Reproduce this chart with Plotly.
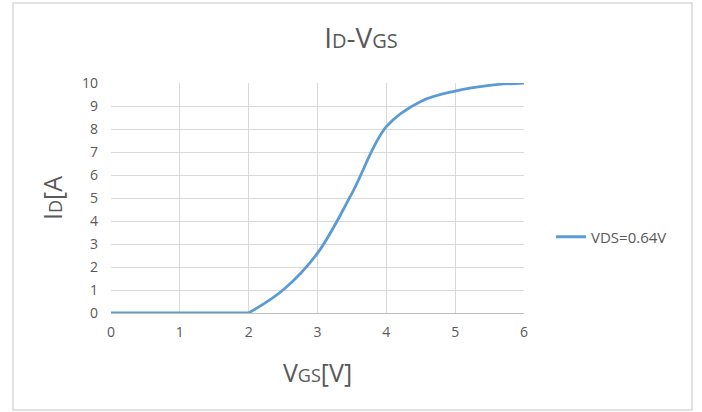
import plotly.graph_objects as go

vgs = [0, 0.5, 1, 1.5, 2, 2.5, 3, 3.5, 4, 4.5, 5, 5.5, 6]
id_a = [0, 0, 0, 0, 0, 1.0, 2.6, 5.2, 8.1, 9.2, 9.65, 9.9, 10]
series_name = "VDS=0.64V"
x_ticks = [0, 1, 2, 3, 4, 5, 6]
y_ticks = list(range(0, 11))

W, H = 702, 412
L, R, T, B = 111, 178, 83, 99
pw, ph = W - L - R, H - T - B

font_fam = "'Open Sans', 'Noto Sans', sans-serif"
gray = "#595959"
blue = "#5b9bd5"

# split at the knee (x=2) so the flat part stays flat and the rise stays smooth
k = vgs.index(2)

fig = go.Figure()
fig.add_trace(go.Scatter(
    x=vgs[:k + 1], y=id_a[:k + 1], mode="lines", name=series_name,
    legendgroup="s", showlegend=True,
    line=dict(color=blue, width=2.8),
))
fig.add_trace(go.Scatter(
    x=vgs[k:], y=id_a[k:], mode="lines", name=series_name,
    legendgroup="s", showlegend=False,
    line=dict(color=blue, width=2.8, shape="spline", smoothing=1.0),
))

fig.update_layout(
    width=W, height=H,
    margin=dict(l=L, r=R, t=T, b=B),
    paper_bgcolor="white", plot_bgcolor="white",
    font=dict(family=font_fam, color=gray, size=14),
    title=dict(
        text="I<span style='font-size:20px'>D</span>-V<span style='font-size:20px'>GS</span>",
        x=361 / W, xanchor="center", y=1 - 38 / H, yanchor="middle",
        font=dict(size=28, color=gray, family=font_fam),
    ),
    showlegend=True,
    legend=dict(x=(551 - L) / pw, y=(T + ph - 237) / ph, xanchor="left", yanchor="middle",
                font=dict(size=15, color=gray), bgcolor="rgba(0,0,0,0)"),
    xaxis=dict(
        range=[0, 6], tickvals=x_ticks, showgrid=True, gridcolor="#d9d9d9", gridwidth=1,
        zeroline=False, showline=True, linecolor="#bfbfbf", linewidth=1,
        ticks="", tickfont=dict(size=14, color=gray), ticklabelstandoff=6, fixedrange=True,
        title=dict(text="V<span style='font-size:18px'>GS</span>[V]", font=dict(size=25, color=gray), standoff=24),
    ),
    yaxis=dict(
        range=[0, 10], tickvals=y_ticks, showgrid=True, gridcolor="#d9d9d9", gridwidth=1,
        zeroline=False, showline=False, fixedrange=True,
        ticks="", tickfont=dict(size=14, color=gray), ticklabelstandoff=12,
        title=dict(text="I<span style='font-size:18px'>D</span>[A", font=dict(size=25, color=gray), standoff=12),
    ),
)

# outer chart frame
fig.add_shape(
    type="rect", xref="paper", yref="paper",
    x0=(13 - L) / pw, x1=(692 - L) / pw,
    y0=(T + ph - 410) / ph, y1=(T + ph - 3) / ph,
    line=dict(color="#d9d9d9", width=1.5), fillcolor="rgba(0,0,0,0)", layer="below",
)

fig.write_html("out.html", config={"displayModeBar": False},
               post_script="document.body.style.margin='0';")
